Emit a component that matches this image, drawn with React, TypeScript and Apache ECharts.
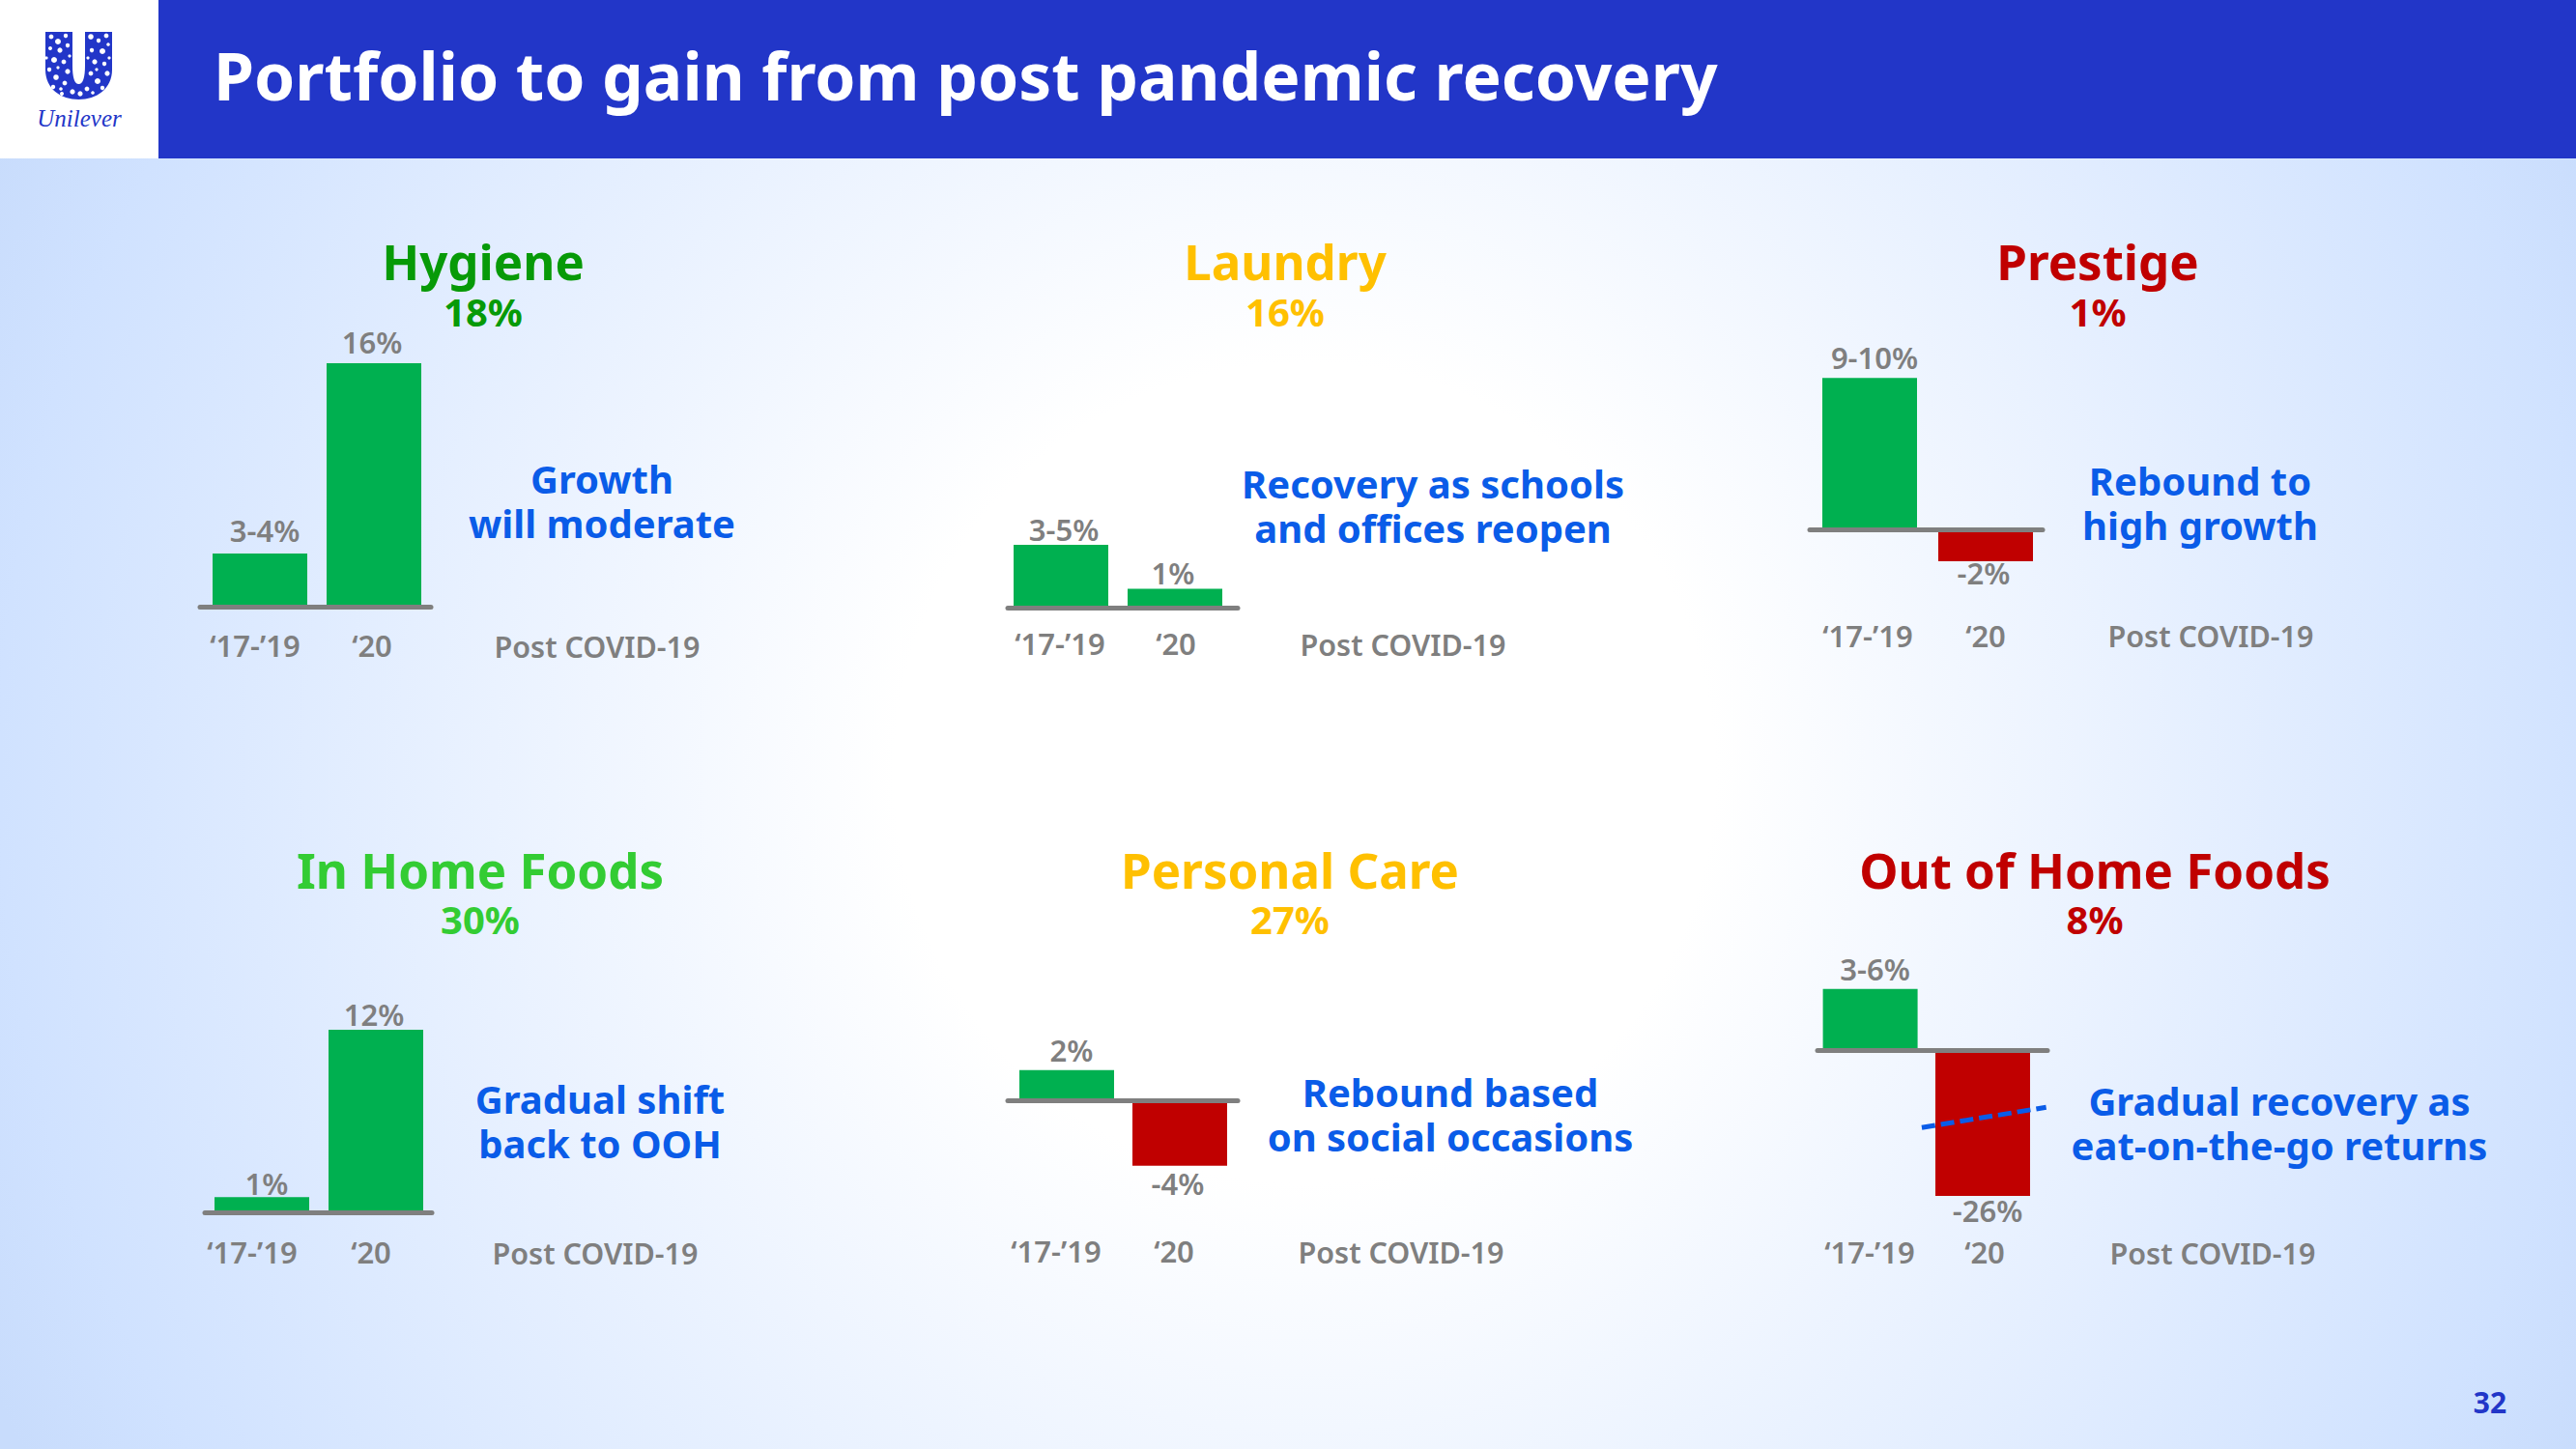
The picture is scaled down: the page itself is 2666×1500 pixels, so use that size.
import React, { useEffect, useRef } from "react";
import * as echarts from "echarts";

const FONT = "'Noto Sans', Lato, sans-serif";
const BLUE = "#2236c8";
const NOTE = "#0a5ce8";
const GREY = "#7f7f7f";
const GREEN = "#00b050";
const RED = "#c00000";

const slideTitle = "Portfolio to gain from post pandemic recovery";
const pageNumber = "32";
const periods = ["\u201817-\u201919", "\u201820"];
const postLabel = "Post COVID-19";

const names = ["Hygiene", "Laundry", "Prestige", "In Home Foods", "Personal Care", "Out of Home Foods"];
const shares = ["18%", "16%", "1%", "30%", "27%", "8%"];
const nameColors = ["#079a07", "#ffc000", "#c00000", "#33cc33", "#ffc000", "#c00000"];
const notes = [
  "Growth\nwill moderate",
  "Recovery as schools\nand offices reopen",
  "Rebound to\nhigh growth",
  "Gradual shift\nback to OOH",
  "Rebound based\non social occasions",
  "Gradual recovery as\neat-on-the-go returns",
];
// Bar lengths as drawn in the picture, in each panel's own unit; the source's bars are not all to scale.
const hygieneBars = [3.5, 16];
const laundryBars = [4, 1.2];
const prestigeBars = [9.5, -2];
const homeFoodsBars = [1, 12];
const personalCareBars = [1.9, -4.1];
const outOfHomeBars = [10.9, -26];
const hygieneLabels = ["3-4%", "16%"];
const laundryLabels = ["3-5%", "1%"];
const prestigeLabels = ["9-10%", "-2%"];
const homeFoodsLabels = ["1%", "12%"];
const personalCareLabels = ["2%", "-4%"];
const outOfHomeLabels = ["3-6%", "-26%"];
const outOfHomeTrend = [[0.458, -13.8], [1.564, -10.2]];

const bars = [hygieneBars, laundryBars, prestigeBars, homeFoodsBars, personalCareBars, outOfHomeBars];
const barLabels = [hygieneLabels, laundryLabels, prestigeLabels, homeFoodsLabels, personalCareLabels, outOfHomeLabels];

// Layout: c1/c2 bar centres, a1/a2 axis ends, base axis y, ppu px per unit, l1/l2 tick label centres, ly tick label y
const layout = [
  { c1: 269, c2: 387, a1: 207, a2: 446, base: 628, ppu: 15.75, l1: 264, l2: 385, ly: 668, tx: 500, ty: 270, sy: 322, nx: 623, ny: 518, px: 618, py: 669, off: [[5, -2], [-2, -1]] },
  { c1: 1098, c2: 1216, a1: 1043, a2: 1281, base: 629, ppu: 16.25, l1: 1097, l2: 1217, ly: 666, tx: 1330, ty: 270, sy: 322, nx: 1483, ny: 523, px: 1452, py: 667, off: [[3, 5], [-2, 5]] },
  { c1: 1935, c2: 2055, a1: 1873, a2: 2114, base: 548, ppu: 16.5, l1: 1933, l2: 2055, ly: 658, tx: 2171, ty: 270, sy: 322, nx: 2277, ny: 520, px: 2288, py: 658, off: [[5, 0], [-2, -10]] },
  { c1: 271, c2: 389, a1: 212, a2: 447, base: 1255, ppu: 15.75, l1: 261, l2: 384, ly: 1296, tx: 497, ty: 900, sy: 951, nx: 621, ny: 1160, px: 616, py: 1297, off: [[5, 7], [-2, 5]] },
  { c1: 1104, c2: 1221, a1: 1043, a2: 1281, base: 1139, ppu: 16.5, l1: 1093, l2: 1215, ly: 1295, tx: 1335, ty: 900, sy: 951, nx: 1501, ny: 1153, px: 1450, py: 1296, off: [[5, 1], [-2, -3]] },
  { c1: 1935.6, c2: 2052, a1: 1881, a2: 2119, base: 1087, ppu: 5.81, l1: 1935, l2: 2054, ly: 1296, tx: 2168, ty: 900, sy: 951, nx: 2359, ny: 1162, px: 2290, py: 1297, off: [[5, 1], [5, -7]] },
];

const uMark = "M47 33 L75 33 L75 68 C75 80 77 87 81.5 87 C86 87 88 80 88 68 L88 33 L116 33 L116 72 C116 92 100 103 81.5 103 C63 103 47 92 47 72 Z";
echarts.graphic.registerShape("uMark", echarts.graphic.extendPath(uMark, {}) as any);

const specks = [
  [53, 38, 2.4], [60, 43, 3], [68, 37, 2.2], [52, 50, 2], [62, 52, 2.6], [70, 47, 2.2], [56, 62, 3], [66, 64, 2.4], [51, 72, 2.2], [70, 74, 2.6], [58, 80, 2.8], [67, 86, 2.4], [55, 90, 2.2], [75, 95, 2.6], [60, 70, 1.6], [48, 60, 1.6], [72, 58, 1.6], [63, 92, 1.8],
  [94, 38, 2.8], [102, 42, 2.2], [110, 37, 2.4], [95, 52, 2.2], [106, 53, 3], [112, 46, 1.8], [98, 64, 2.6], [108, 66, 2.2], [94, 76, 2.4], [111, 76, 2.6], [101, 84, 3], [90, 92, 2.4], [106, 91, 2.2], [83, 97, 2.6], [64, 97, 2], [100, 72, 1.6], [91, 60, 1.6], [113, 60, 1.6], [96, 96, 1.8],
];

function buildOption() {
  const text = (t: string, x: number, y: number, size: number, color: string, weight: any = 700, lineHeight?: number) => ({
    type: "text",
    x,
    y,
    silent: true,
    style: { text: t, fill: color, font: `${weight} ${size}px ${FONT}`, textAlign: "center", textVerticalAlign: "middle", lineHeight },
  });

  const graphic: any[] = [
    {
      type: "rect",
      z: -10,
      shape: { x: 0, y: 0, width: 2666, height: 1500 },
      style: {
        fill: {
          type: "radial",
          x: 1350,
          y: 800,
          r: 1500,
          global: true,
          colorStops: [
            { offset: 0, color: "#ffffff" },
            { offset: 0.283, color: "#ffffff" },
            { offset: 0.9, color: "#d0e2ff" },
            { offset: 1, color: "#c8dcfc" },
          ],
        },
      },
    },
    { type: "rect", shape: { x: 0, y: 0, width: 164, height: 164 }, style: { fill: "#ffffff" } },
    { type: "rect", shape: { x: 164, y: 0, width: 2502, height: 164 }, style: { fill: BLUE } },
    { type: "uMark", x: 0, y: 0, style: { fill: BLUE } },
  ];
  specks.forEach(([x, y, r]) => graphic.push({ type: "circle", shape: { cx: x, cy: y, r }, style: { fill: "#ffffff" } }));
  graphic.push({ type: "text", x: 82, y: 122, style: { text: "Unilever", fill: BLUE, font: `italic 400 25px 'Liberation Serif', serif`, textAlign: "center", textVerticalAlign: "middle" } });
  graphic.push({ type: "text", x: 221, y: 78, style: { text: slideTitle, fill: "#ffffff", font: `700 67.7px ${FONT}`, textAlign: "left", textVerticalAlign: "middle" } });
  graphic.push(text(pageNumber, 2577, 1451, 30, BLUE));

  layout.forEach((p, i) => {
    graphic.push(text(names[i], p.tx, p.ty, 51, nameColors[i]));
    graphic.push(text(shares[i], p.tx, p.sy, 40, nameColors[i]));
    graphic.push(text(notes[i], p.nx, p.ny, 40, NOTE, 700, 46));
    graphic.push(text(postLabel, p.px, p.py, 30.5, GREY, 600));
  });

  const grid: any[] = [];
  const xAxis: any[] = [];
  const yAxis: any[] = [];
  const series: any[] = [];

  layout.forEach((p, i) => {
    const vals = bars[i];
    const yMax = Math.max(0, ...vals);
    const yMin = Math.min(0, ...vals);
    const d = p.c2 - p.c1;
    const tickVals = [(p.l1 - p.c1) / d, (p.l2 - p.c1) / d];
    const mid = (tickVals[0] + tickVals[1]) / 2;
    const gridBottom = p.base - yMin * p.ppu;
    grid.push({ left: p.a1, width: p.a2 - p.a1, top: p.base - yMax * p.ppu, height: (yMax - yMin) * p.ppu, containLabel: false });
    xAxis.push({
      type: "value",
      gridIndex: i,
      min: (p.a1 - p.c1) / d,
      max: (p.a2 - p.c1) / d,
      z: 5,
      splitLine: { show: false },
      axisTick: { show: false },
      axisLine: { show: true, onZero: true, lineStyle: { color: GREY, width: 5 } },
      axisLabel: {
        customValues: tickVals,
        formatter: (v: number) => (v < mid ? periods[0] : periods[1]),
        margin: p.ly - gridBottom - 16,
        color: GREY,
        fontFamily: FONT,
        fontWeight: 600,
        fontSize: 31,
        hideOverlap: false,
      },
    });
    yAxis.push({ type: "value", gridIndex: i, min: yMin, max: yMax, show: false, splitLine: { show: false } });
    series.push({
      type: "bar",
      xAxisIndex: i,
      yAxisIndex: i,
      barWidth: 98,
      data: vals.map((v, j) => ({
        value: [j, v],
        itemStyle: { color: v >= 0 ? GREEN : RED },
        label: {
          show: true,
          position: v >= 0 ? "top" : "bottom",
          distance: 6,
          offset: p.off[j],
          formatter: barLabels[i][j],
          color: GREY,
          fontFamily: FONT,
          fontWeight: 600,
          fontSize: 31,
        },
      })),
    });
  });

  series.push({
    type: "line",
    xAxisIndex: 5,
    yAxisIndex: 5,
    data: outOfHomeTrend,
    symbol: "none",
    clip: false,
    z: 6,
    lineStyle: { color: NOTE, width: 5, type: [14, 6] },
  });

  return {
    animation: false,
    graphic: { elements: graphic },
    grid,
    xAxis,
    yAxis,
    series,
  };
}

export default function App() {
  const ref = useRef<HTMLDivElement>(null);
  useEffect(() => {
    document.body.style.margin = "0";
    const chart = echarts.init(ref.current!, undefined, { renderer: "svg", width: 2666, height: 1500 });
    chart.setOption(buildOption() as any);
    return () => chart.dispose();
  }, []);
  return <div ref={ref} style={{ width: 2666, height: 1500 }} />;
}
